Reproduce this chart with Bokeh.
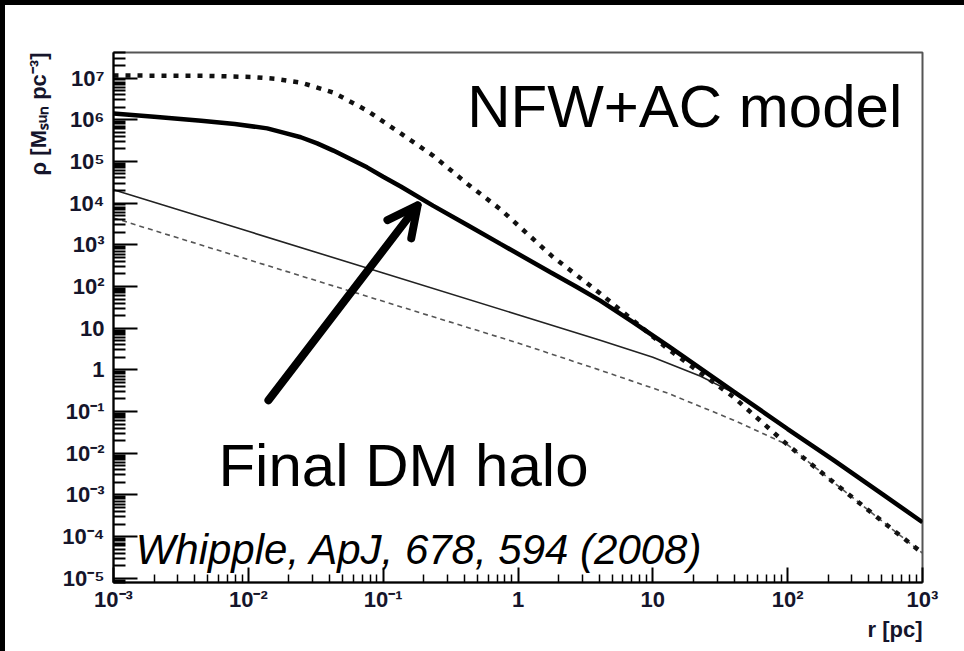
from bokeh.core.properties import value
from bokeh.embed import file_html
from bokeh.models import Arrow, FixedTicker, OpenHead, Range1d, Title
from bokeh.plotting import figure
from bokeh.resources import INLINE

# ---- density profiles, rho [M_sun pc^-3] against r [pc] ----
# NFW + adiabatic contraction (thick dotted)
r_ac = [1.0e-3, 5.0e-3, 1.05e-2, 1.58e-2, 2.45e-2, 4.27e-2, 7.59e-2, 0.135,
        0.234, 0.427, 0.741, 1.78, 4.07, 12.9, 39.8, 100.0, 219.0, 513.0,
        1000.0]
rho_ac = [1.15e7, 1.13e7, 1.06e7, 9.6e6, 7.8e6, 4.5e6, 1.66e6, 4.7e5,
          1.38e5, 2.8e4, 7.1e3, 5.4e2, 68.0, 3.2, 0.22, 1.58e-2, 2.0e-3,
          2.2e-4, 4.0e-5]

# final dark-matter halo (thick solid)
r_final = [1.0e-3, 2.0e-3, 4.47e-3, 7.94e-3, 1.38e-2, 1.82e-2, 2.45e-2,
           3.24e-2, 4.27e-2, 5.62e-2, 7.59e-2, 0.1, 0.135, 0.234, 0.427,
           0.741, 1.74, 2.69, 4.07, 7.08, 12.9, 39.8, 100.0, 219.0, 513.0,
           1000.0]
rho_final = [1.41e6, 1.18e6, 9.5e5, 7.9e5, 6.2e5, 4.9e5, 3.8e5, 2.7e5,
             1.82e5, 1.17e5, 7.2e4, 4.3e4, 2.5e4, 8.7e3, 2.9e3, 1.05e3,
             2.2e2, 100.0, 45.7, 14.1, 3.8, 0.30, 3.8e-2, 6.8e-3, 1.0e-3,
             2.2e-4]

# initial NFW cusp (thin solid)
r_nfw = [1.0e-3, 1.0e-2, 0.1, 1.0, 4.07, 10.0, 22.4, 39.8, 100.0, 219.0,
         513.0, 1000.0]
rho_nfw = [2.1e4, 2.1e3, 210.0, 21.0, 5.1, 2.0, 0.71, 0.28, 3.8e-2,
           6.8e-3, 1.0e-3, 2.2e-4]

# thin dashed profile
r_dash = [1.0e-3, 1.0e-2, 0.1, 1.0, 4.07, 12.9, 39.8, 100.0, 219.0, 513.0,
          1000.0]
rho_dash = [4.4e3, 440.0, 44.0, 4.4, 0.98, 0.275, 6.2e-2, 1.58e-2, 2.0e-3,
            2.2e-4, 4.0e-5]

# ---- axes ----
x_ticks = [1e-3, 1e-2, 1e-1, 1.0, 10.0, 100.0, 1000.0]
x_tick_labels = ["10⁻³", "10⁻²", "10⁻¹", "1", "10", "10²", "10³"]
y_ticks = [1e-5, 1e-4, 1e-3, 1e-2, 1e-1, 1.0, 10.0, 100.0, 1e3, 1e4, 1e5,
           1e6, 1e7]
y_tick_labels = ["10⁻⁵", "10⁻⁴", "10⁻³", "10⁻²", "10⁻¹", "1", "10", "10²",
                 "10³", "10⁴", "10⁵", "10⁶", "10⁷"]
x_title = "r [pc]"
y_title = "ρ [Mₛᵤₙ pc⁻³]"

X_MIN, X_MAX = 1e-3, 1e3
Y_MIN, Y_MAX = 7.9e-6, 4.1e7

FONT = "Liberation Sans"
INK = "#15152b"

p = figure(width=964, height=651, x_axis_type="log", y_axis_type="log",
           x_range=Range1d(X_MIN, X_MAX), y_range=Range1d(Y_MIN, Y_MAX),
           output_backend="svg", toolbar_location=None,
           min_border_left=113, min_border_right=42,
           min_border_top=52, min_border_bottom=69)
p.background_fill_color = "white"
p.border_fill_color = None
# white page with a dark edge along its top and left
p.styles = {"background-color": "white",
            "box-shadow": "inset 5px 5px 0px 0px black"}
p.outline_line_color = "#555555"
p.outline_line_width = 2
p.xgrid.visible = False
p.ygrid.visible = False


def minor_positions(lo_exp, hi_exp, lo, hi):
    out = []
    for e in range(lo_exp, hi_exp + 1):
        for k in range(2, 10):
            v = k * 10.0 ** e
            if lo <= v <= hi:
                out.append(v)
    return out


p.xaxis.ticker = FixedTicker(ticks=x_ticks,
                             minor_ticks=minor_positions(-3, 2, X_MIN, X_MAX))
p.yaxis.ticker = FixedTicker(ticks=y_ticks,
                             minor_ticks=minor_positions(-6, 7, Y_MIN, Y_MAX))
p.xaxis.major_label_overrides = dict(zip(x_ticks, x_tick_labels))
p.yaxis.major_label_overrides = dict(zip(y_ticks, y_tick_labels))

for ax in (p.xaxis[0], p.yaxis[0]):
    ax.axis_line_color = "black"
    ax.axis_line_width = 2
    ax.major_tick_line_color = "black"
    ax.minor_tick_line_color = "black"
    ax.major_tick_line_width = 2
    ax.minor_tick_line_width = 1.5
    ax.major_tick_out = 0
    ax.minor_tick_out = 0
    ax.major_label_text_font = FONT
    ax.major_label_text_font_style = "bold"
    ax.major_label_text_font_size = "22px"
    ax.major_label_text_color = INK

p.xaxis.major_tick_in = 15
p.xaxis.minor_tick_in = 8
p.xaxis.major_label_standoff = 4
p.yaxis.major_tick_in = 24
p.yaxis.minor_tick_in = 12
p.yaxis.minor_tick_line_width = 2
p.yaxis.major_label_standoff = 9

# axis titles, pushed to the far ends of their axes
p.add_layout(Title(text=x_title, align="right", text_font=FONT,
                   text_font_size="22px", text_font_style="bold",
                   text_color=INK, standoff=0), "below")
p.add_layout(Title(text=y_title, align="right", text_font=FONT,
                   text_font_size="22px", text_font_style="bold",
                   text_color=INK, standoff=18), "left")

# ---- curves ----
p.line(r_dash, rho_dash, line_color="#555555", line_width=1.6,
       line_dash="5 4")
p.line(r_nfw, rho_nfw, line_color="#222222", line_width=1.6)
p.line(r_ac, rho_ac, line_color="#111111", line_width=4.5, line_dash="5 7")
p.line(r_final, rho_final, line_color="black", line_width=4.5)

# ---- annotations ----
p.text(x=[0.42], y=[2.09e6], text=["NFW+AC model"], text_font=value(FONT),
       text_font_size="60px", text_color="black",
       text_baseline="alphabetic")
p.text(x=[6.0e-3], y=[5.1e-3], text=["Final DM halo"], text_font=value(FONT),
       text_font_size="60px", text_color="black",
       text_baseline="alphabetic")
p.text(x=[1.46e-3], y=[4.9e-5], text=["Whipple, ApJ, 678, 594 (2008)"],
       text_font=value(FONT), text_font_size="42px",
       text_font_style="italic", text_color="black",
       text_baseline="alphabetic")

p.add_layout(Arrow(x_start=0.0141, y_start=0.186, x_end=0.18, y_end=8.8e3,
                   line_width=8, line_color="black", line_cap="round",
                   end=OpenHead(size=30, line_width=8, line_color="black",
                                line_cap="round", line_join="round")))

open("out.html", "w").write(file_html(p, INLINE))
